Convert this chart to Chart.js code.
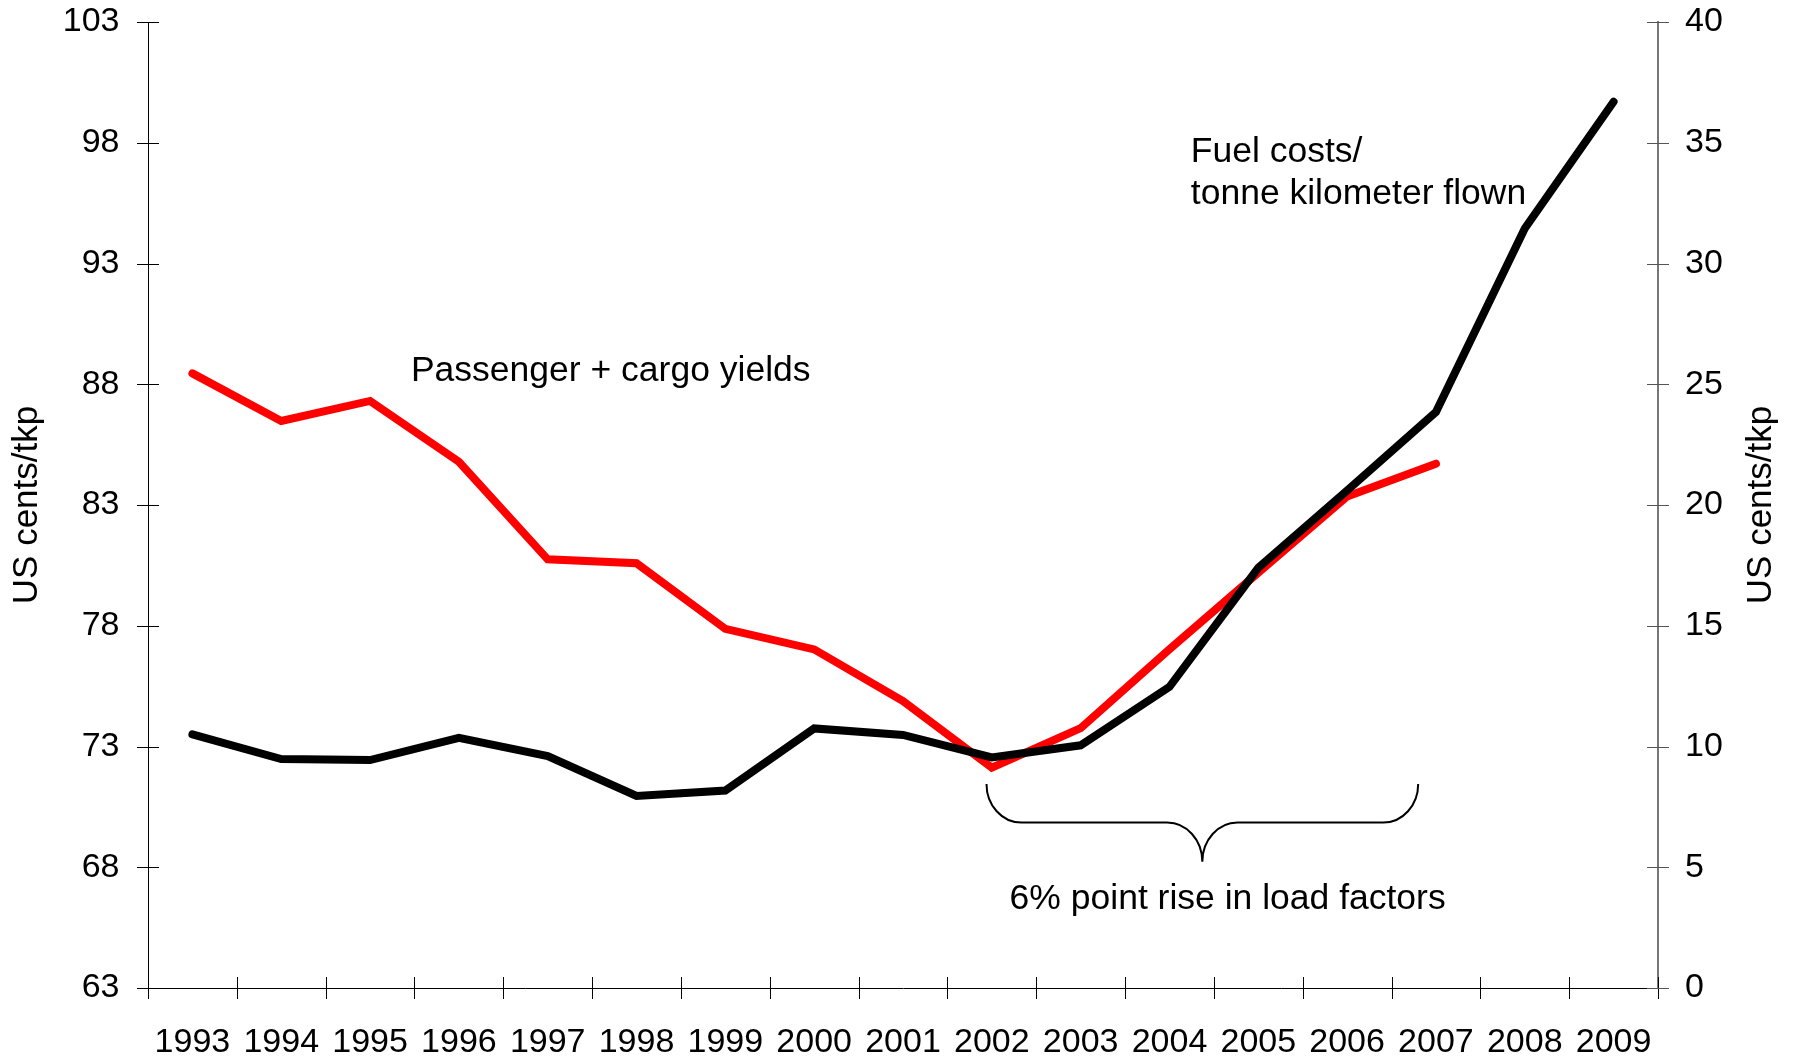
<!DOCTYPE html>
<html>
<head>
<meta charset="utf-8">
<script src="https://cdn.jsdelivr.net/npm/chart.js@4/dist/chart.umd.min.js"></script>
<style>
  html, body { margin: 0; padding: 0; background: #fff; }
  #wrap { width: 1795px; height: 1057px; }
</style>
</head>
<body>
<div id="wrap"><canvas id="chart" width="1795" height="1057"></canvas></div>
<script>
const years = ['1993', '1994', '1995', '1996', '1997', '1998', '1999', '2000', '2001',
  '2002', '2003', '2004', '2005', '2006', '2007', '2008', '2009'];
// passenger + cargo yields, left axis
const yields = [88.45, 86.48, 87.31, 84.79, 80.75, 80.59, 77.87, 77.02, 74.88,
  72.12, 73.76, 77.03, 80.2, 83.35, 84.71, null, null];
// fuel costs per tonne km flown, right axis
const fuel = [10.5, 9.48, 9.44, 10.36, 9.6, 7.95, 8.18, 10.75, 10.48,
  9.55, 10.05, 12.47, 17.4, 20.6, 23.85, 31.45, 36.7];
const leftRange = [63, 103];
const rightRange = [0, 40];
const tickStep = 5;

const FONT = "'Liberation Sans', Arial, sans-serif";

// text notes, anchored on category index + axis value
const notes = [
  { text: 'Passenger + cargo yields', at: 2.46, value: 88.55, axis: 'yL' },
  { text: 'Fuel costs/', at: 11.24, value: 34.6, axis: 'yR' },
  { text: 'tonne kilometer flown', at: 11.24, value: 32.85, axis: 'yR' },
  { text: '6% point rise in load factors', at: 9.2, value: 3.68, axis: 'yR' }
];
// curly brace under 2002-2007
const brace = { from: 8.94, to: 13.8, top: 8.45, mid: 6.85, tip: 5.23, axis: 'yR' };

function seg(ctx, x1, y1, x2, y2) {
  ctx.beginPath();
  ctx.moveTo(x1, y1);
  ctx.lineTo(x2, y2);
  ctx.stroke();
}

const extras = {
  id: 'extras',
  afterDraw(chart) {
    const { ctx, chartArea, scales } = chart;
    const x = scales.x, yL = scales.yL, yR = scales.yR;
    ctx.save();

    // crossing tick marks
    ctx.lineWidth = 1;
    ctx.strokeStyle = '#000';
    yL.ticks.forEach(t => {
      const py = Math.round(yL.getPixelForValue(t.value)) + 0.5;
      seg(ctx, yL.right - 11, py, yL.right + 11, py);
    });
    for (let i = 0; i <= years.length; i++) {
      const px = Math.round(x.getPixelForValue(i - 0.5)) + 0.5;
      seg(ctx, px, x.top - 11, px, x.top + 11);
    }
    ctx.strokeStyle = '#555';
    yR.ticks.forEach(t => {
      const py = Math.round(yR.getPixelForValue(t.value)) + 0.5;
      seg(ctx, yR.left - 11, py, yR.left + 11, py);
    });

    // right axis title, same direction as the left one
    ctx.fillStyle = '#000';
    ctx.font = '35px ' + FONT;
    ctx.textAlign = 'center';
    ctx.textBaseline = 'middle';
    ctx.save();
    ctx.translate(chart.width - 34, (chartArea.top + chartArea.bottom) / 2);
    ctx.rotate(-Math.PI / 2);
    ctx.fillText('US cents/tkp', 0, 0);
    ctx.restore();

    // notes
    ctx.font = '35.5px ' + FONT;
    ctx.textAlign = 'left';
    notes.forEach(n => {
      ctx.fillText(n.text, x.getPixelForValue(n.at), scales[n.axis].getPixelForValue(n.value));
    });

    // brace
    const ys = scales[brace.axis];
    const L = x.getPixelForValue(brace.from), R = x.getPixelForValue(brace.to);
    const C = (L + R) / 2;
    const yTop = ys.getPixelForValue(brace.top);
    const yMid = ys.getPixelForValue(brace.mid);
    const yTip = ys.getPixelForValue(brace.tip);
    const r1 = yMid - yTop, r2 = yTip - yMid;
    const rx1 = r1 * 0.9, rx2 = r2 * 0.9;
    const k = 0.5523;
    ctx.lineWidth = 2;
    ctx.strokeStyle = '#000';
    ctx.beginPath();
    ctx.moveTo(L, yTop);
    ctx.bezierCurveTo(L, yTop + k * r1, L + rx1 - k * rx1, yMid, L + rx1, yMid);
    ctx.lineTo(C - rx2, yMid);
    ctx.bezierCurveTo(C - rx2 + k * rx2, yMid, C, yTip - k * r2, C, yTip);
    ctx.bezierCurveTo(C, yTip - k * r2, C + rx2 - k * rx2, yMid, C + rx2, yMid);
    ctx.lineTo(R - rx1, yMid);
    ctx.bezierCurveTo(R - rx1 + k * rx1, yMid, R, yTop + k * r1, R, yTop);
    ctx.stroke();

    ctx.restore();
  }
};

function fixY(width) {
  return function (scale) {
    scale.width = width;
    scale.paddingTop = 0;
    scale.paddingBottom = 0;
  };
}

const config = {
  type: 'line',
  data: {
    labels: years,
    datasets: [{
      label: 'Passenger + cargo yields',
      data: yields,
      yAxisID: 'yL',
      borderColor: '#ff0000',
      backgroundColor: '#ff0000',
      borderWidth: 8,
      borderCapStyle: 'round',
      pointRadius: 0,
      tension: 0,
      order: 2
    }, {
      label: 'Fuel costs/tonne kilometer flown',
      data: fuel,
      yAxisID: 'yR',
      borderColor: '#000000',
      backgroundColor: '#000000',
      borderWidth: 8,
      borderCapStyle: 'round',
      pointRadius: 0,
      tension: 0,
      order: 1
    }]
  },
  options: {
    responsive: false,
    animation: false,
    devicePixelRatio: 1,
    layout: { padding: { top: 22, left: 0, right: 0, bottom: 0 } },
    plugins: { legend: { display: false }, tooltip: { enabled: false } },
    scales: {
      x: {
        offset: true,
        grid: { display: false, drawTicks: false },
        border: { display: true, color: '#000', width: 1 },
        ticks: {
          color: '#000', font: { family: FONT, size: 34 },
          padding: 34, autoSkip: false, maxRotation: 0, minRotation: 0
        },
        afterFit(scale) {
          scale.height = 69;
          scale.paddingLeft = 0;
          scale.paddingRight = 0;
        }
      },
      yL: {
        position: 'left',
        min: leftRange[0], max: leftRange[1],
        grid: { display: false, drawTicks: false },
        border: { display: true, color: '#000', width: 1 },
        ticks: { stepSize: tickStep, color: '#000', font: { family: FONT, size: 34 }, padding: 28.5 },
        title: {
          display: true, text: 'US cents/tkp', color: '#000',
          font: { family: FONT, size: 35 }, padding: { top: 6, bottom: 0 }
        },
        afterFit: fixY(148)
      },
      yR: {
        position: 'right',
        min: rightRange[0], max: rightRange[1],
        grid: { display: false, drawTicks: false },
        border: { display: true, color: '#777', width: 2 },
        ticks: { stepSize: tickStep, color: '#000', font: { family: FONT, size: 34 }, padding: 27 },
        afterFit: fixY(137)
      }
    }
  },
  plugins: [extras]
};

window.addEventListener('load', () => {
  new Chart(document.getElementById('chart'), config);
});
</script>
</body>
</html>
